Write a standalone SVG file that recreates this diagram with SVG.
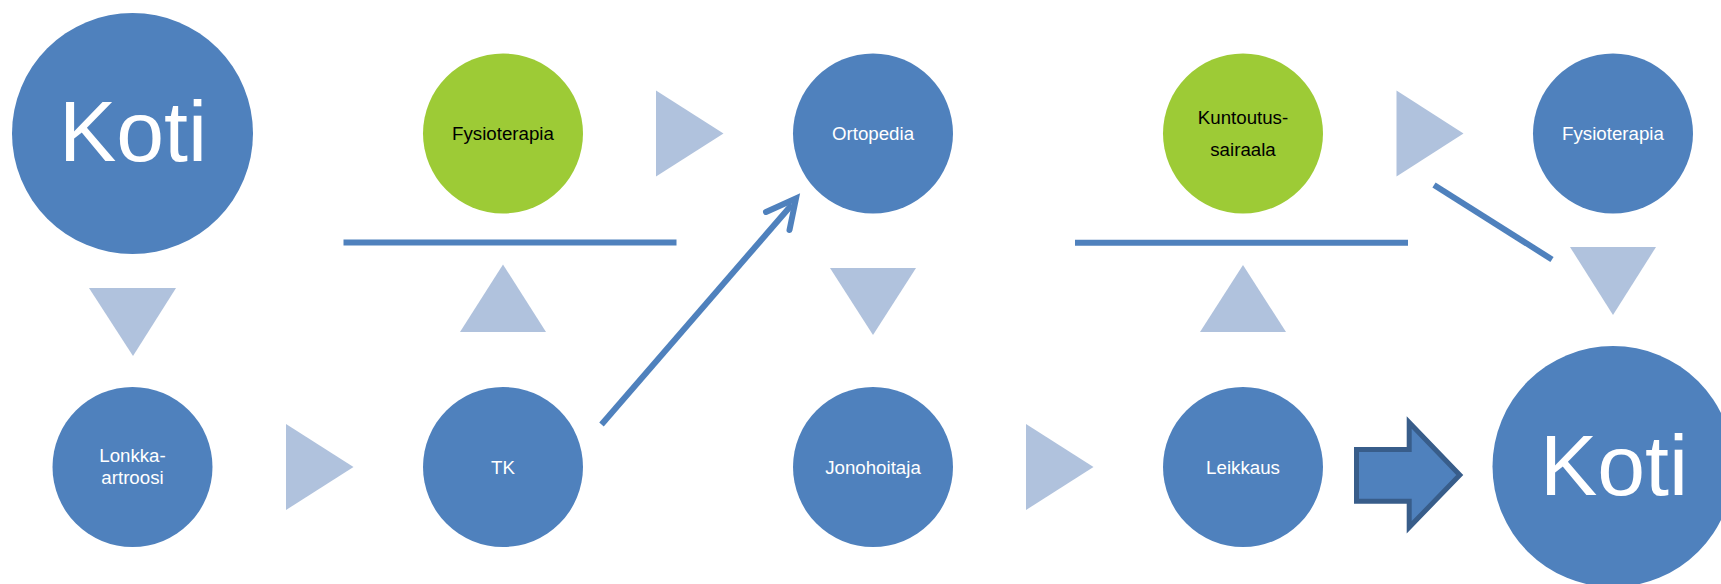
<svg xmlns="http://www.w3.org/2000/svg" width="1721" height="584" viewBox="0 0 1721 584">
  <style>
    .blue { fill: #4F81BD; }
    .green { fill: #9DCB36; }
    .tri { fill: #B0C2DD; }
    .bar { stroke: #4F81BD; stroke-width: 6; fill: none; }
    .lbl { font-family: "Liberation Sans", Arial, sans-serif; font-size: 18.7px; text-anchor: middle; }
    .w { fill: #FFFFFF; }
    .k { fill: #000000; }
    .big { font-family: "Liberation Sans", Arial, sans-serif; font-size: 86px; text-anchor: middle; fill: #FFFFFF; }
  </style>
  <rect width="1721" height="584" fill="#FFFFFF"/>

  <!-- flow triangles and connector lines -->
  <g id="connectors">
    <polygon class="tri" points="89,288 176,288 133,356"/>
    <polygon class="tri" points="286,424 286,510 353.5,467"/>
    <polygon class="tri" points="460,332 546,332 503,264.5"/>
    <polygon class="tri" points="656,90.5 656,176.5 723.5,133.5"/>
    <polygon class="tri" points="830,268 916,268 873,335"/>
    <polygon class="tri" points="1026,424 1026,510 1093.5,467"/>
    <polygon class="tri" points="1200,332 1286,332 1243,265"/>
    <polygon class="tri" points="1396.5,90.5 1396.5,176.5 1463.5,133.5"/>
    <polygon class="tri" points="1570,247 1656,247 1613,315"/>

    <line class="bar" x1="343.5" y1="242.6" x2="676.5" y2="242.6"/>
    <line class="bar" x1="1075" y1="242.8" x2="1408" y2="242.8"/>
    <line class="bar" x1="1434" y1="185" x2="1552" y2="259.5" stroke-width="5.6"/>

    <!-- TK to Ortopedia arrow -->
    <line class="bar" x1="601.5" y1="424.5" x2="792" y2="204.5" stroke-width="6.5"/>
    <polyline class="bar" points="766,212 796,198.5 789.5,230" stroke-width="6.5" stroke-linecap="round" stroke-linejoin="miter"/>

    <!-- block arrow Leikkaus to Koti -->
    <path d="M1356.5,449.5 H1409.2 V422.5 L1459.8,475 L1409.2,527.3 V501.3 H1356.5 Z" fill="#4F81BD" stroke="#385D8A" stroke-width="5" stroke-linejoin="miter"/>
  </g>

  <g id="koti-start">
    <circle class="blue" cx="132.5" cy="133.5" r="120.5"/>
    <text class="big" x="133" y="160.5">Koti</text>
  </g>

  <g id="lonkka-artroosi">
    <circle class="blue" cx="132.5" cy="467" r="80"/>
    <text class="lbl w" x="132.5" y="461.5">Lonkka-</text>
    <text class="lbl w" x="132.5" y="484">artroosi</text>
  </g>

  <g id="tk">
    <circle class="blue" cx="503" cy="467" r="80"/>
    <text class="lbl w" x="503" y="473.7">TK</text>
  </g>

  <g id="fysioterapia-1">
    <circle class="green" cx="503" cy="133.5" r="80"/>
    <text class="lbl k" x="503" y="140.2">Fysioterapia</text>
  </g>

  <g id="ortopedia">
    <circle class="blue" cx="873" cy="133.5" r="80"/>
    <text class="lbl w" x="873" y="140.2">Ortopedia</text>
  </g>

  <g id="jonohoitaja">
    <circle class="blue" cx="873" cy="467" r="80"/>
    <text class="lbl w" x="873" y="473.7">Jonohoitaja</text>
  </g>

  <g id="kuntoutussairaala">
    <circle class="green" cx="1243" cy="133.5" r="80"/>
    <text class="lbl k" x="1243" y="123.5">Kuntoutus-</text>
    <text class="lbl k" x="1243" y="156">sairaala</text>
  </g>

  <g id="leikkaus">
    <circle class="blue" cx="1243" cy="467" r="80"/>
    <text class="lbl w" x="1243" y="473.7">Leikkaus</text>
  </g>

  <g id="fysioterapia-2">
    <circle class="blue" cx="1613" cy="133.5" r="80"/>
    <text class="lbl w" x="1613" y="140.2">Fysioterapia</text>
  </g>

  <g id="koti-end">
    <circle class="blue" cx="1613" cy="466.5" r="120.5"/>
    <text class="big" x="1614" y="494.5">Koti</text>
  </g>
</svg>
